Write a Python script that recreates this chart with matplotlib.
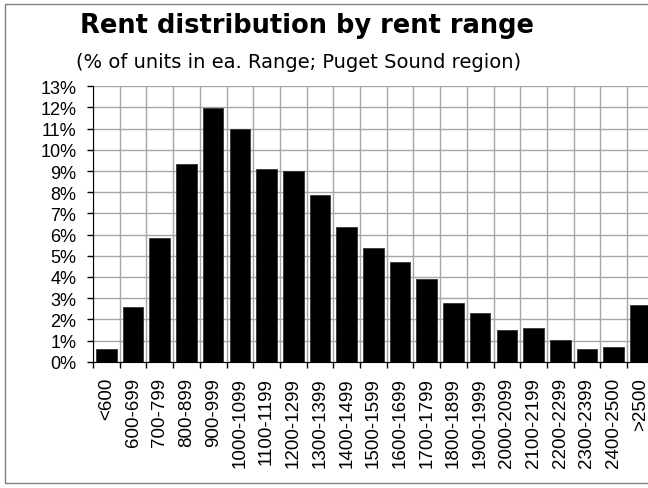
import matplotlib
matplotlib.use("Agg")
import matplotlib.pyplot as plt
import matplotlib.patches
import numpy as np

categories = ["<600", "600-699", "700-799", "800-899", "900-999", "1000-1099",
              "1100-1199", "1200-1299", "1300-1399", "1400-1499", "1500-1599",
              "1600-1699", "1700-1799", "1800-1899", "1900-1999", "2000-2099",
              "2100-2199", "2200-2299", "2300-2399", "2400-2500", ">2500"]
share_pct = [0.6, 2.6, 5.85, 9.32, 11.97, 10.99, 9.10, 9.02, 7.87, 6.38, 5.39,
             4.72, 3.89, 2.76, 2.31, 1.48, 1.57, 1.02, 0.58, 0.68, 2.69]
y_ticks = list(range(0, 14))
y_labels = ["%d%%" % v for v in y_ticks]


def main():
    fig = plt.figure(figsize=(6.48, 4.89), dpi=100)

    # outer chart border, cut off at the right like the original
    fig.patches.append(matplotlib.patches.Rectangle(
        (5 / 648, 5 / 489), 1.2, 479 / 489, transform=fig.transFigure,
        fill=False, edgecolor="#7f7f7f", linewidth=1.0))

    ax = fig.add_axes([93 / 648, 126.3 / 489, 560.7 / 648, 275.4 / 489])
    x = np.arange(len(categories))
    ax.bar(x, share_pct, width=0.77, color="black", edgecolor="#333333",
           linewidth=0.6, zorder=3)

    ax.set_xlim(-0.5, len(categories) - 0.5)
    ax.set_ylim(0, 13)

    ax.set_yticks(y_ticks)
    ax.set_yticklabels(y_labels, fontfamily="Liberation Sans", fontsize=13)
    ax.set_xticks(x)
    ax.set_xticklabels(categories, rotation=90, fontfamily="Liberation Sans",
                       fontsize=13.5)
    ax.tick_params(axis="x", length=0, pad=11)
    ax.set_xticks(np.arange(len(categories) + 1) - 0.5, minor=True)
    ax.tick_params(axis="x", which="minor", length=4, direction="out", width=1)
    ax.tick_params(axis="y", length=4, direction="out", width=1, pad=8)

    ax.grid(True, axis="y", color="#a6a6a6", linewidth=1.0, zorder=0)
    ax.grid(True, axis="x", which="minor", color="#a6a6a6", linewidth=1.0, zorder=0)

    for side in ["top", "right"]:
        ax.spines[side].set_visible(False)
    ax.spines["left"].set_color("black")
    ax.spines["bottom"].set_color("black")
    ax.spines["bottom"].set_zorder(4)

    fig.text(307 / 648, 1 - 33 / 489, "Rent distribution by rent range",
             ha="center", va="baseline", fontsize=18.5, fontweight="bold",
             fontfamily="DejaVu Sans")
    fig.text(299 / 648, 1 - 68 / 489,
             "(% of units in ea. Range; Puget Sound region)",
             ha="center", va="baseline", fontsize=14, fontfamily="DejaVu Sans")

    fig.savefig("out.png", dpi=100)


if __name__ == "__main__":
    main()
